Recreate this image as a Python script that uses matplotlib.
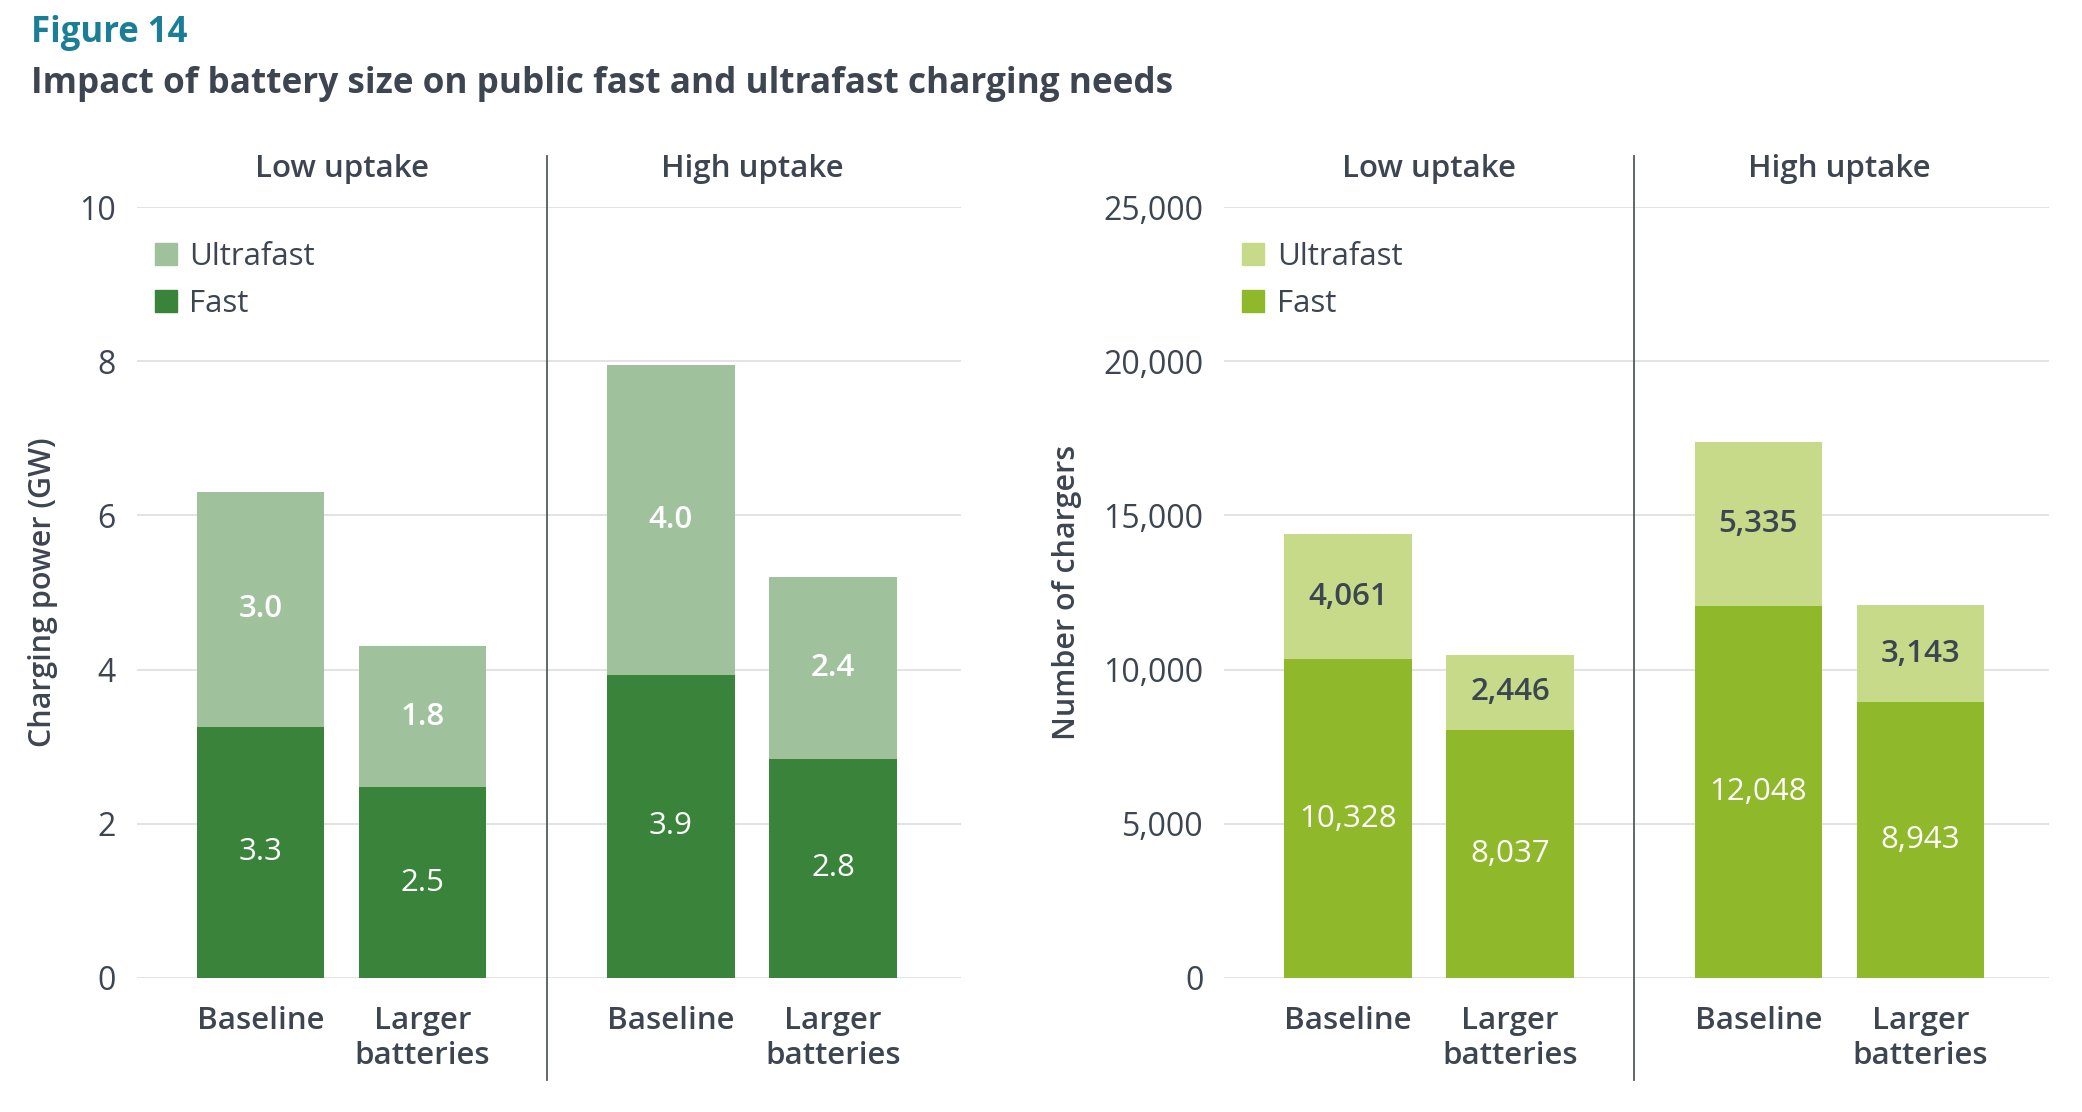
import numpy as np
import matplotlib
matplotlib.use("Agg")
import matplotlib.pyplot as plt
from matplotlib.patches import Patch
from matplotlib.ticker import StrMethodFormatter

plt.rcParams["font.family"] = ["Open Sans", "DejaVu Sans"]

# data
groups = ["Low uptake", "High uptake"]
scenarios = ["Baseline", "Larger\nbatteries"]
power_fast = [3.26, 2.47, 3.93, 2.84]
power_ultra = [3.04, 1.83, 4.02, 2.36]
chargers_fast = [10328, 8037, 12048, 8943]
chargers_ultra = [4061, 2446, 5335, 3143]

TXT = "#3d4551"
GRID = "#dedede"
GROUP_STEP = 2.533   # distance between first bars of two groups
BAR_W = 0.787

# bar positions: two bars per group, wider gap between groups
xpos = np.array([g * GROUP_STEP + b for g in range(len(groups)) for b in range(len(scenarios))])
divider_x = (xpos[1] + xpos[2]) / 2
group_centers = [xpos[0:2].mean(), xpos[2:4].mean()]


def draw_panel(ax, fast, ultra, c_fast, c_ultra, ymax, step, ylabel, fmt, ultra_txt):
    ax.bar(xpos, fast, width=BAR_W, color=c_fast, zorder=2)
    ax.bar(xpos, ultra, width=BAR_W, bottom=fast, color=c_ultra, zorder=2)
    for x, f, u in zip(xpos, fast, ultra):
        ax.text(x, f / 2, fmt(f), ha="center", va="center", color="white",
                fontsize=22.5, fontweight="medium", zorder=3)
        ax.text(x, f + u / 2, fmt(u), ha="center", va="center", color=ultra_txt,
                fontsize=22.5, fontweight="semibold", zorder=3)

    ax.set_xlim(-0.765, 4.325)
    ax.set_ylim(0, ymax)
    ax.set_yticks(np.arange(0, ymax + step / 2, step))
    ax.yaxis.grid(True, color=GRID, lw=1.2, zorder=0)
    ax.set_axisbelow(True)
    for sp in ax.spines.values():
        sp.set_visible(False)
    ax.tick_params(axis="y", length=0, pad=15, labelsize=23, labelcolor=TXT)
    ax.tick_params(axis="x", length=0, pad=20, labelsize=22.5, labelcolor=TXT)
    ax.set_xticks(xpos)
    ax.set_xticklabels(scenarios * len(groups), fontweight="semibold", linespacing=1.25)

    ax.axvline(divider_x, ymin=-0.133, ymax=1.067, color="#555a60", lw=1.3, clip_on=False)
    for gx, gname in zip(group_centers, groups):
        ax.text(gx, 1.05, gname, transform=ax.get_xaxis_transform(), ha="center",
                va="center", fontsize=22.5, fontweight="semibold", color=TXT)

    ax.set_ylabel(ylabel, fontsize=22, fontweight="semibold", color=TXT, labelpad=15)

    handles = [Patch(color=c_ultra, label="Ultrafast"), Patch(color=c_fast, label="Fast")]
    ax.legend(handles=handles, loc="upper left", bbox_to_anchor=(0.022, 0.955),
              frameon=False, fontsize=22.5, handlelength=0.7, handleheight=0.7,
              handletextpad=0.4, labelspacing=0.55, borderpad=0, borderaxespad=0,
              labelcolor=TXT)


fig = plt.figure(figsize=(20.82, 11.12), dpi=100)
ax1 = fig.add_axes([0.0657, 0.1207, 0.396, 0.6929])
ax2 = fig.add_axes([0.588, 0.1207, 0.396, 0.6929])

draw_panel(ax1, power_fast, power_ultra, "#3a833a", "#9fc29d", 10, 2,
           "Charging power (GW)", lambda v: f"{v:.1f}", "white")
draw_panel(ax2, chargers_fast, chargers_ultra, "#8fb82a", "#c6da8a", 25000, 5000,
           "Number of chargers", lambda v: f"{v:,.0f}", TXT)
ax2.yaxis.set_major_formatter(StrMethodFormatter("{x:,.0f}"))

fig.text(0.0147, 0.970, "Figure 14", fontsize=25, fontweight="bold", color="#1a7f96",
         ha="left", va="center")
fig.text(0.0147, 0.9247, "Impact of battery size on public fast and ultrafast charging needs",
         fontsize=25.3, fontweight="bold", color=TXT, ha="left", va="center")

fig.savefig("out.png", dpi=100)
